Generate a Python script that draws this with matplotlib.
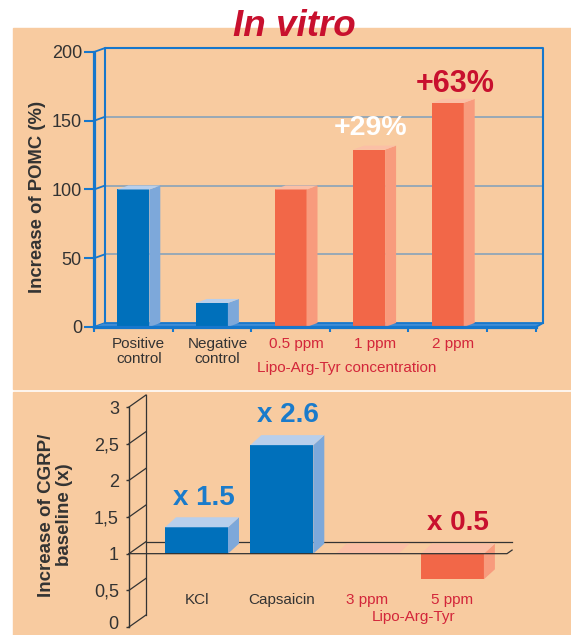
import matplotlib
matplotlib.use('Agg')
import matplotlib.pyplot as plt
from matplotlib.patches import Rectangle
from matplotlib.transforms import ScaledTranslation

plt.rcParams['font.family'] = ['Liberation Sans', 'DejaVu Sans']

# --- top chart: POMC in vitro
pomc_labels = ['Positive\ncontrol', 'Negative\ncontrol', '0.5 ppm', '1 ppm', '2 ppm']
pomc_values = [100, 17.5, 100, 129, 163]
pomc_lipo = [False, False, True, True, True]
pomc_yticks = [0, 50, 100, 150, 200]
pomc_notes = [None, None, None, '+29%', '+63%']

# --- bottom chart: CGRP
cgrp_labels = ['KCl', 'Capsaicin', '3 ppm', '5 ppm']
cgrp_values = [1.36, 2.48, 1.0, 0.65]
cgrp_lipo = [False, False, True, True]
cgrp_yticks = [0, 0.5, 1, 1.5, 2, 2.5, 3]
cgrp_yticklabels = ['0', '0,5', '1', '1,5', '2', '2,5', '3']
cgrp_notes = ['x 1.5', 'x 2.6', None, 'x 0.5']

PEACH = '#F8CBA0'
BLUE = ('#0070BB', '#7DA8DA', '#B8CFEC')
ORANGE = ('#F26748', '#F89B7D', '#FBBFA6')
AXBLUE = '#1677CC'
GRID = '#7E9FBC'
DARK = '#333333'
RED = '#C8102E'
LABRED = '#D3263A'
NOTEBLUE = '#1A7BCB'

W, H = 571, 635
fig = plt.figure(figsize=(W / 100, H / 100), dpi=100)
fig.patch.set_facecolor('white')


def fx(px):
    return px / W


def fy(py):
    return 1 - py / H


for y0, y1 in [(28, 389), (392, 635)]:
    fig.patches.append(Rectangle((fx(13), fy(y1)), fx(W) - fx(13), fy(y0) - fy(y1),
                                 transform=fig.transFigure, color=PEACH, zorder=-10))


def bar3d(ax, x, base, val, w, dx, dy, cols):
    lo, hi = min(base, val), max(base, val)
    front, side, top = cols
    ax.bar(x, hi - lo, width=w, bottom=lo, color=front, lw=0, zorder=3, clip_on=False)
    xr = x + w / 2
    ax.fill([xr, xr + dx, xr + dx, xr], [lo, lo + dy, hi + dy, hi],
            color=side, lw=0, zorder=3, clip_on=False)
    ax.fill([x - w / 2, xr, xr + dx, x - w / 2 + dx], [hi, hi, hi + dy, hi + dy],
            color=top, lw=0, zorder=3, clip_on=False)


# ================= top chart =================
slot = 78.6
xmin1, xmax1 = -0.5, (536 - 94) / slot - 0.5
ax1 = fig.add_axes([fx(94), fy(327), fx(536) - fx(94), fy(52) - fy(327)])
ax1.set_xlim(xmin1, xmax1)
ax1.set_ylim(0, 200)
ax1.patch.set_alpha(0)
dx1, dy1 = 11 / slot, 2.9
bw1 = 32 / slot
xback = xmax1 + 7 / slot

for s in ['top', 'right']:
    ax1.spines[s].set_visible(False)
for s in ['left', 'bottom']:
    ax1.spines[s].set_color(AXBLUE)
    ax1.spines[s].set_linewidth(2.3)
    ax1.spines[s].set_zorder(6)

ax1.set_yticks(pomc_yticks)
ax1.set_yticklabels([str(t) for t in pomc_yticks])
ax1.tick_params(axis='y', length=7.2, width=1.5, color=AXBLUE, labelsize=13,
                labelcolor=DARK, pad=1.5)
ax1.set_xticks([b - 0.5 for b in range(6)] + [xmax1])
ax1.set_xticklabels([])
ax1.tick_params(axis='x', length=3.8, width=1.5, color=AXBLUE)

# back wall and grid
for t in pomc_yticks[1:-1]:
    ax1.plot([xmin1 + dx1, xback], [t + dy1] * 2, color=GRID, lw=1.1, zorder=1, clip_on=False)
for t in pomc_yticks:
    ax1.plot([xmin1, xmin1 + dx1], [t, t + dy1], color=AXBLUE, lw=1.3, zorder=2, clip_on=False)
ax1.plot([xmin1 + dx1, xmin1 + dx1, xback, xback],
         [dy1, 200 + dy1, 200 + dy1, dy1], color=AXBLUE, lw=1.5, zorder=2, clip_on=False)
# floor
ax1.fill([xmin1, xmax1, xback, xmin1 + dx1], [0, 0, dy1, dy1],
         color='#3F8CD5', lw=0, zorder=2, clip_on=False)
ax1.plot([xmin1 + dx1, xback, xmax1], [dy1, dy1, 0], color=AXBLUE, lw=1.3,
         zorder=2, clip_on=False)

for i, (lab, v, lipo, note) in enumerate(zip(pomc_labels, pomc_values, pomc_lipo, pomc_notes)):
    bar3d(ax1, i, 0, v, bw1, dx1, dy1, ORANGE if lipo else BLUE)
    ax1.text(i + dx1 / 2, -7, lab, ha='center', va='top', fontsize=11,
             color=LABRED if lipo else DARK, linespacing=1.15, clip_on=False)

ax1.text(3.02, 145, pomc_notes[3], ha='center', va='center', fontsize=20.5,
         fontweight='bold', color='white')
ax1.text(4.09, 177, pomc_notes[4], ha='center', va='center', fontsize=22,
         fontweight='bold', color=RED)
ax1.text(2.72, -30, 'Lipo-Arg-Tyr concentration', ha='center', va='center',
         fontsize=11, color=LABRED)

fig.text(fx(294), fy(27), 'In vitro', ha='center', va='center', fontsize=26.5,
         fontweight='bold', fontstyle='italic', color=RED)
fig.text(fx(38), fy(197), 'Increase of POMC (%)', rotation=90, ha='center',
         va='center', fontsize=13.3, fontweight='bold', color=DARK)

# ================= bottom chart =================
slot2 = 85.3
xmin2, xmax2 = (129 - 196.5) / slot2, (507 - 196.5) / slot2
ax2 = fig.add_axes([fx(129), fy(627), fx(507) - fx(129), fy(407) - fy(627)])
ax2.set_xlim(xmin2, xmax2)
ax2.set_ylim(0, 3)
ax2.patch.set_alpha(0)
dx2, dy2 = 11 / slot2, 10 / 73.3
adx, ady = 17 / slot2, 12 / 73.3
bw2 = 63 / slot2

for s in ['top', 'right', 'bottom']:
    ax2.spines[s].set_visible(False)
ax2.spines['left'].set_color(DARK)
ax2.spines['left'].set_linewidth(1.0)
ax2.set_xticks([])
ax2.set_yticks(cgrp_yticks)
ax2.set_yticklabels(cgrp_yticklabels)
ax2.tick_params(axis='y', length=2.3, width=1.0, color=DARK, labelsize=13,
                labelcolor=DARK, pad=5)
# nudge the "0" label up a little so it stays inside the picture
zero_lab = ax2.get_yticklabels()[0]
zero_lab.set_transform(zero_lab.get_transform() + ScaledTranslation(0, 3 / 72, fig.dpi_scale_trans))

for t in cgrp_yticks:
    ax2.plot([xmin2, xmin2 + adx], [t, t + ady], color=DARK, lw=0.9, zorder=2, clip_on=False)
ax2.plot([xmin2 + adx] * 2, [ady, 3 + ady], color=DARK, lw=0.9, zorder=2, clip_on=False)
ax2.plot([xmin2 + adx, xmax2 + 0.3 * adx], [1 + ady] * 2, color=DARK, lw=0.9, zorder=1, clip_on=False)
ax2.plot([xmin2, xmax2, xmax2 + 0.3 * adx], [1, 1, 1 + 0.3 * ady], color=DARK, lw=0.9,
         zorder=5, clip_on=False)

for i, (lab, v, lipo) in enumerate(zip(cgrp_labels, cgrp_values, cgrp_lipo)):
    bar3d(ax2, i, 1, v, bw2, dx2, dy2, ORANGE if lipo else BLUE)
    ax2.text(i, 0.37, lab, ha='center', va='center', fontsize=11,
             color=LABRED if lipo else DARK)

note_pos = [(0.09, 1.76), (1.07, 2.89), None, (3.06, 1.42)]
for i, note in enumerate(cgrp_notes):
    if note is None:
        continue
    x, y = note_pos[i]
    ax2.text(x, y, note, ha='center', va='center', fontsize=20, fontweight='bold',
             color=RED if cgrp_lipo[i] else NOTEBLUE, clip_on=False)
ax2.text(2.55, 0.13, 'Lipo-Arg-Tyr', ha='center', va='center', fontsize=11, color=LABRED)

fig.text(fx(55.5), fy(515), 'Increase of CGRP/\nbaseline (x)', rotation=90, ha='center',
         va='center', fontsize=13.5, fontweight='bold', color=DARK, linespacing=1.1)

fig.savefig('out.png', dpi=100)
